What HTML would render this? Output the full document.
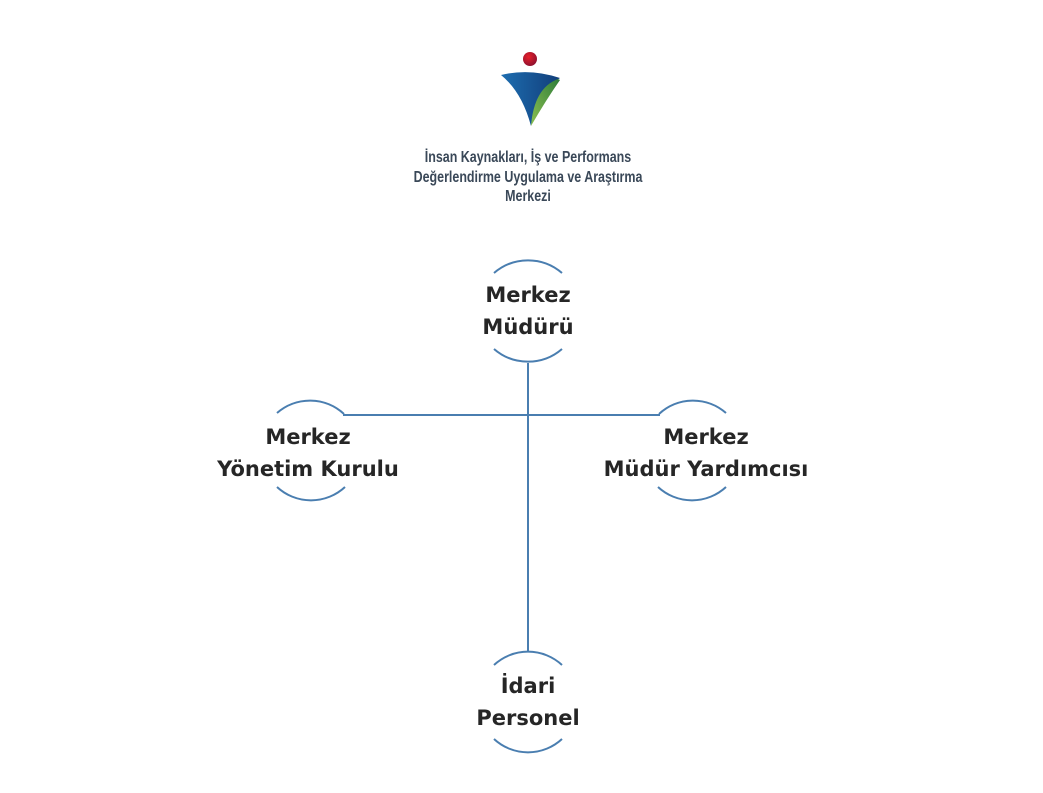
<!DOCTYPE html>
<html><head><meta charset="utf-8"><style>
html,body{margin:0;padding:0;background:#fff;}
svg{display:block}
.h{font-family:"Liberation Sans",sans-serif;font-size:16px;font-weight:bold;fill:#3a4858;}
.t{font-family:"DejaVu Sans","Liberation Sans",sans-serif;font-weight:bold;font-size:21px;fill:#262626;}
</style></head><body>
<svg width="1043" height="793" viewBox="0 0 1043 793" xmlns="http://www.w3.org/2000/svg">
<defs>
<linearGradient id="b" x1="0" y1="0" x2="1" y2="0"><stop offset="0" stop-color="#1d6db0"/><stop offset="1" stop-color="#123e7a"/></linearGradient>
<linearGradient id="g" x1="0" y1="1" x2="1" y2="0"><stop offset="0" stop-color="#8cc050"/><stop offset="1" stop-color="#2e7d3a"/></linearGradient>
<radialGradient id="r" cx="0.4" cy="0.35" r="0.7"><stop offset="0" stop-color="#e8202a"/><stop offset="1" stop-color="#8a1030"/></radialGradient>
</defs>
<circle cx="530" cy="59" r="7" fill="url(#r)"/>
<path d="M501 75 Q530 68 560 78 Q536 92 531 126 Q522 92 501 75Z" fill="url(#b)"/>
<path d="M558 79 Q534 88 531 126 Q546 100 560 80Z" fill="url(#g)"/>
<g transform="translate(528,0) scale(0.78,1)">
<text class="h" x="0" y="162" text-anchor="middle">İnsan Kaynakları, İş ve Performans</text>
<text class="h" x="0" y="182" text-anchor="middle">Değerlendirme Uygulama ve Araştırma</text>
<text class="h" x="0" y="201" text-anchor="middle">Merkezi</text>
</g>
<g fill="none" stroke="#4a7eb0" stroke-width="2">
<line x1="528" y1="363" x2="528" y2="652"/>
<line x1="343" y1="415" x2="660" y2="415"/>
<path d="M494 273 A52 52 0 0 1 562 273"/>
<path d="M494 349 A52 52 0 0 0 562 349"/>
<path d="M277 413 A50 50 0 0 1 344 414"/>
<path d="M277 487 A50 50 0 0 0 345 487"/>
<path d="M659 414 A50 50 0 0 1 726 413"/>
<path d="M658 487 A50 50 0 0 0 726 487"/>
<path d="M494 665 A50 50 0 0 1 562 665"/>
<path d="M494 739 A50 50 0 0 0 562 739"/>
</g>
<text class="t" x="528" y="302" text-anchor="middle">Merkez</text>
<text class="t" x="528" y="334" text-anchor="middle">Müdürü</text>
<text class="t" x="308" y="444" text-anchor="middle">Merkez</text>
<text class="t" x="308" y="476" text-anchor="middle">Yönetim Kurulu</text>
<text class="t" x="706" y="444" text-anchor="middle">Merkez</text>
<text class="t" x="706" y="476" text-anchor="middle">Müdür Yardımcısı</text>
<text class="t" x="528" y="693" text-anchor="middle">İdari</text>
<text class="t" x="528" y="725" text-anchor="middle">Personel</text>
</svg>
</body></html>
